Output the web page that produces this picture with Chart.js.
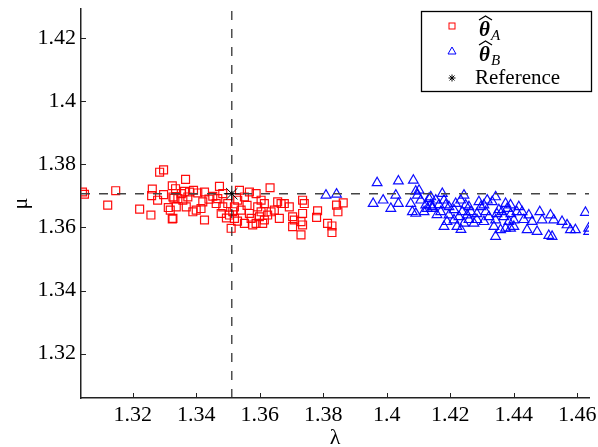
<!DOCTYPE html>
<html>
<head>
<meta charset="utf-8">
<script src="https://cdn.jsdelivr.net/npm/chart.js@4.4.0/dist/chart.umd.min.js"></script>
<style>
  html, body { margin: 0; padding: 0; background: #fff; }
  #wrap { width: 598px; height: 447px; }
</style>
</head>
<body>
<div id="wrap"><canvas id="chart" width="598" height="447"></canvas></div>
<script>
// estimates of theta_A (red squares)
const thetaAX = [1.30416, 1.30479, 1.31463, 1.31211, 1.32616, 1.32594, 1.32783, 1.32971, 1.32217, 1.32572,
  1.32846, 1.32971, 1.33245, 1.33295, 1.33119, 1.33182, 1.33245, 1.33663, 1.33348, 1.33265,
  1.33421, 1.33528, 1.33631, 1.33788, 1.33914, 1.34049, 1.34260, 1.34206, 1.33370, 1.33685,
  1.33892, 1.33999, 1.34260, 1.33265, 1.33735, 1.33578, 1.34731, 1.34521, 1.34678, 1.34835,
  1.34628, 1.34835, 1.34785, 1.34992, 1.35046, 1.35099, 1.35203, 1.35306, 1.35360, 1.35517,
  1.35674, 1.35885, 1.35413, 1.35517, 1.35728, 1.35778, 1.35885, 1.35674, 1.35989, 1.35935,
  1.36042, 1.35203, 1.36325, 1.36146, 1.36042, 1.36146, 1.36092, 1.36249, 1.36356, 1.36564,
  1.36671, 1.36774, 1.36931, 1.36617, 1.36460, 1.37349, 1.37403, 1.37349, 1.37299, 1.37035,
  1.37089, 1.37035, 1.37349, 1.37299, 1.37821, 1.37790, 1.38135, 1.38274, 1.38274, 1.38418,
  1.38462, 1.38629, 1.34400, 1.34950, 1.35150, 1.35600, 1.34150, 1.35300];
const thetaAY = [1.37125, 1.37053, 1.37166, 1.36708, 1.37219, 1.37009, 1.36865, 1.37040, 1.36582, 1.36394,
  1.37753, 1.37825, 1.37323, 1.36927, 1.36632, 1.36551, 1.36268, 1.37524, 1.37229, 1.36968,
  1.36915, 1.37072, 1.37147, 1.37125, 1.37179, 1.37094, 1.37125, 1.36811, 1.36654, 1.36654,
  1.36497, 1.36551, 1.36237, 1.36287, 1.36968, 1.36865, 1.37304, 1.36990, 1.36915, 1.37072,
  1.36758, 1.36654, 1.36444, 1.36758, 1.36394, 1.35973, 1.36654, 1.36865, 1.37179, 1.36968,
  1.37125, 1.37072, 1.36551, 1.36130, 1.36287, 1.36080, 1.36130, 1.36444, 1.36340, 1.36654,
  1.36865, 1.36287, 1.37260, 1.36758, 1.36497, 1.36237, 1.36130, 1.36394, 1.36497, 1.36811,
  1.36758, 1.36758, 1.36654, 1.36287, 1.36551, 1.36865, 1.36758, 1.36444, 1.36184, 1.36340,
  1.36237, 1.36026, 1.36080, 1.35766, 1.36529, 1.36318, 1.36130, 1.36048, 1.35838, 1.36708,
  1.36497, 1.36780, 1.36900, 1.36300, 1.36500, 1.36700, 1.36600, 1.36200];

// estimates of theta_B (blue triangles)
const thetaBX = [1.38085, 1.38418, 1.39697, 1.40367, 1.40838, 1.39572, 1.39886, 1.40285, 1.40128, 1.40367,
  1.40914, 1.41017, 1.40964, 1.40756, 1.40807, 1.40914, 1.41071, 1.41228, 1.41332, 1.41385,
  1.41435, 1.41278, 1.41385, 1.41435, 1.41542, 1.41750, 1.41803, 1.41856, 1.41699, 1.41960,
  1.42117, 1.42171, 1.42328, 1.42432, 1.42485, 1.42378, 1.42535, 1.42432, 1.42746, 1.42903,
  1.43060, 1.43164, 1.43321, 1.43428, 1.43114, 1.43217, 1.43428, 1.43375, 1.43428, 1.43742,
  1.43793, 1.43689, 1.43846, 1.43585, 1.43742, 1.43899, 1.44160, 1.44264, 1.44003, 1.43899,
  1.44475, 1.44578, 1.44421, 1.44736, 1.44820, 1.44893, 1.45157, 1.45260, 1.45103, 1.45207,
  1.45521, 1.45678, 1.45942, 1.45785, 1.46257, 1.46360, 1.46360, 1.41960, 1.42117, 1.42275,
  1.42589, 1.42652, 1.42840, 1.42966, 1.42840, 1.42589, 1.43060, 1.43532, 1.43469, 1.43626,
  1.43909, 1.44097, 1.44003, 1.44317, 1.42212, 1.42337, 1.41897, 1.41646, 1.41583, 1.41175,
  1.41803];
const thetaBY = [1.37022, 1.37053, 1.37417, 1.37470, 1.37492, 1.36758, 1.36865, 1.37022, 1.36601, 1.36758,
  1.37147, 1.37179, 1.37022, 1.36758, 1.36497, 1.36444, 1.36865, 1.36708, 1.36915, 1.36708,
  1.36601, 1.36601, 1.36968, 1.36654, 1.36865, 1.37072, 1.36865, 1.36708, 1.36497, 1.36394,
  1.36237, 1.36758, 1.36865, 1.37022, 1.36708, 1.36497, 1.36394, 1.36130, 1.36130, 1.36811,
  1.36708, 1.36865, 1.36811, 1.36968, 1.36497, 1.36340, 1.36237, 1.36026, 1.35713, 1.36758,
  1.36601, 1.36340, 1.36184, 1.35923, 1.35973, 1.36708, 1.36654, 1.36497, 1.36237, 1.35973,
  1.36394, 1.36184, 1.35923, 1.35870, 1.36497, 1.36237, 1.36394, 1.36237, 1.35744, 1.35713,
  1.36184, 1.36080, 1.35923, 1.35923, 1.36475, 1.35973, 1.35870, 1.36654, 1.36560, 1.36340,
  1.36654, 1.36497, 1.36434, 1.36654, 1.36246, 1.36246, 1.36183, 1.36560, 1.36434, 1.36497,
  1.36434, 1.36497, 1.36026, 1.36246, 1.36026, 1.35932, 1.36183, 1.36717, 1.36403, 1.36497,
  1.36026];

const refX = 1.3512;
const refY = 1.3707;

const xTicks = [1.32, 1.34, 1.36, 1.38, 1.40, 1.42, 1.44, 1.46];
const yTicks = [1.32, 1.34, 1.36, 1.38, 1.40, 1.42];
const xRange = [1.3037, 1.4637];
const yRange = [1.3059, 1.4293];

const serif = '"Liberation Serif", "DejaVu Serif", serif';
const tickFont = { family: serif, size: 22 };
const axisColor = '#222';

function toPoints(xs, ys) {
  return xs.map((x, i) => ({ x: x, y: ys[i] }));
}

function fmt(v) {
  return String(parseFloat(v.toFixed(2)));
}

// inward ticks + legend box
const extras = {
  id: 'extras',
  afterDraw(chart) {
    const { ctx, chartArea, scales } = chart;
    ctx.save();
    ctx.strokeStyle = axisColor;
    ctx.lineWidth = 1;
    ctx.beginPath();
    xTicks.forEach((v) => {
      const px = Math.round(scales.x.getPixelForValue(v)) + 0.5;
      ctx.moveTo(px, chartArea.bottom);
      ctx.lineTo(px, chartArea.bottom - 5);
    });
    yTicks.forEach((v) => {
      const py = Math.round(scales.y.getPixelForValue(v)) + 0.5;
      ctx.moveTo(chartArea.left, py);
      ctx.lineTo(chartArea.left + 5, py);
    });
    ctx.stroke();

    // legend
    const bx = 421.5, by = 11.5, bw = 170, bh = 80;
    ctx.fillStyle = '#fff';
    ctx.fillRect(bx, by, bw, bh);
    ctx.strokeStyle = '#000';
    ctx.lineWidth = 1.3;
    ctx.strokeRect(bx, by, bw, bh);

    const mx = 452;
    ctx.lineWidth = 1;
    ctx.strokeStyle = '#ff0000';
    ctx.strokeRect(mx - 3, 23, 6, 6);
    ctx.strokeStyle = '#0000ff';
    ctx.beginPath();
    ctx.moveTo(mx, 47);
    ctx.lineTo(mx + 4, 54);
    ctx.lineTo(mx - 4, 54);
    ctx.closePath();
    ctx.stroke();
    ctx.strokeStyle = '#000';
    ctx.beginPath();
    for (let k = 0; k < 4; k++) {
      const a = k * Math.PI / 4;
      ctx.moveTo(mx - 3.5 * Math.cos(a), 78 - 3.5 * Math.sin(a));
      ctx.lineTo(mx + 3.5 * Math.cos(a), 78 + 3.5 * Math.sin(a));
    }
    ctx.stroke();

    ctx.fillStyle = '#000';
    ctx.textBaseline = 'alphabetic';
    ctx.textAlign = 'left';
    [[36, 'A'], [61, 'B']].forEach(([base, sub]) => {
      ctx.font = 'bold italic 21px ' + serif;
      ctx.fillText('θ', 479, base);
      ctx.lineWidth = 1.3;
      ctx.beginPath();
      ctx.moveTo(479, base - 16);
      ctx.lineTo(485.5, base - 20);
      ctx.lineTo(492, base - 16);
      ctx.stroke();
      ctx.font = 'italic 15px ' + serif;
      ctx.fillText(sub, 491, base + 4);
    });
    ctx.font = '21px ' + serif;
    ctx.fillText('Reference', 475, 84);
    ctx.restore();
  }
};

new Chart(document.getElementById('chart'), {
  type: 'scatter',
  data: {
    datasets: [
      {
        label: 'Reference',
        data: [{ x: refX, y: refY }],
        pointStyle: 'star',
        pointRadius: 8,
        borderColor: '#000',
        backgroundColor: '#000',
        borderWidth: 1,
        order: 1
      },
      {
        type: 'line',
        label: 'h',
        data: [{ x: xRange[0], y: refY }, { x: xRange[1], y: refY }],
        borderColor: '#444',
        borderWidth: 1.4,
        borderDash: [9, 9],
        pointRadius: 0,
        order: 2
      },
      {
        type: 'line',
        label: 'v',
        data: [{ x: refX, y: yRange[0] }, { x: refX, y: yRange[1] }],
        borderColor: '#222',
        borderWidth: 1.2,
        borderDash: [9, 9],
        pointRadius: 0,
        order: 2
      },
      {
        label: 'thetaA',
        data: toPoints(thetaAX, thetaAY),
        pointStyle: 'rect',
        pointRadius: 5.6,
        borderColor: 'rgba(255,0,0,0.95)',
        backgroundColor: 'rgba(0,0,0,0)',
        borderWidth: 1.2,
        order: 3
      },
      {
        label: 'thetaB',
        data: toPoints(thetaBX, thetaBY),
        pointStyle: 'triangle',
        pointRadius: 5.6,
        borderColor: 'rgba(0,0,255,0.95)',
        backgroundColor: 'rgba(0,0,0,0)',
        borderWidth: 1.2,
        order: 3
      }
    ]
  },
  options: {
    responsive: false,
    animation: false,
    devicePixelRatio: 1,
    layout: { padding: { top: 2, right: 8, left: 0, bottom: 0 } },
    plugins: {
      legend: { display: false },
      tooltip: { enabled: false }
    },
    scales: {
      x: {
        type: 'linear',
        min: xRange[0],
        max: xRange[1],
        afterBuildTicks: (s) => { s.ticks = xTicks.map((v) => ({ value: v })); },
        afterFit: (s) => { s.height = 49; s.paddingLeft = 0; s.paddingRight = 0; },
        grid: { display: false, drawTicks: false, tickLength: 0 },
        border: { display: true, color: axisColor, width: 1.5 },
        ticks: { font: tickFont, color: '#000', padding: 4, maxRotation: 0, autoSkip: false, callback: (v) => fmt(v) },
        title: { display: true, text: 'λ', font: { family: serif, size: 22, lineHeight: 0.8 }, color: '#000', padding: { top: 0, bottom: 0 } }
      },
      y: {
        type: 'linear',
        min: yRange[0],
        max: yRange[1],
        afterBuildTicks: (s) => { s.ticks = yTicks.map((v) => ({ value: v })); },
        afterFit: (s) => { s.width = 81; s.paddingTop = 0; s.paddingBottom = 0; },
        grid: { display: false, drawTicks: false, tickLength: 0 },
        border: { display: true, color: axisColor, width: 1.5 },
        ticks: { font: tickFont, color: '#000', padding: 5, autoSkip: false, callback: (v) => fmt(v) },
        title: { display: true, text: 'μ', font: tickFont, color: '#000', padding: { top: 8, bottom: 0 } }
      }
    }
  },
  plugins: [extras]
});
</script>
</body>
</html>
